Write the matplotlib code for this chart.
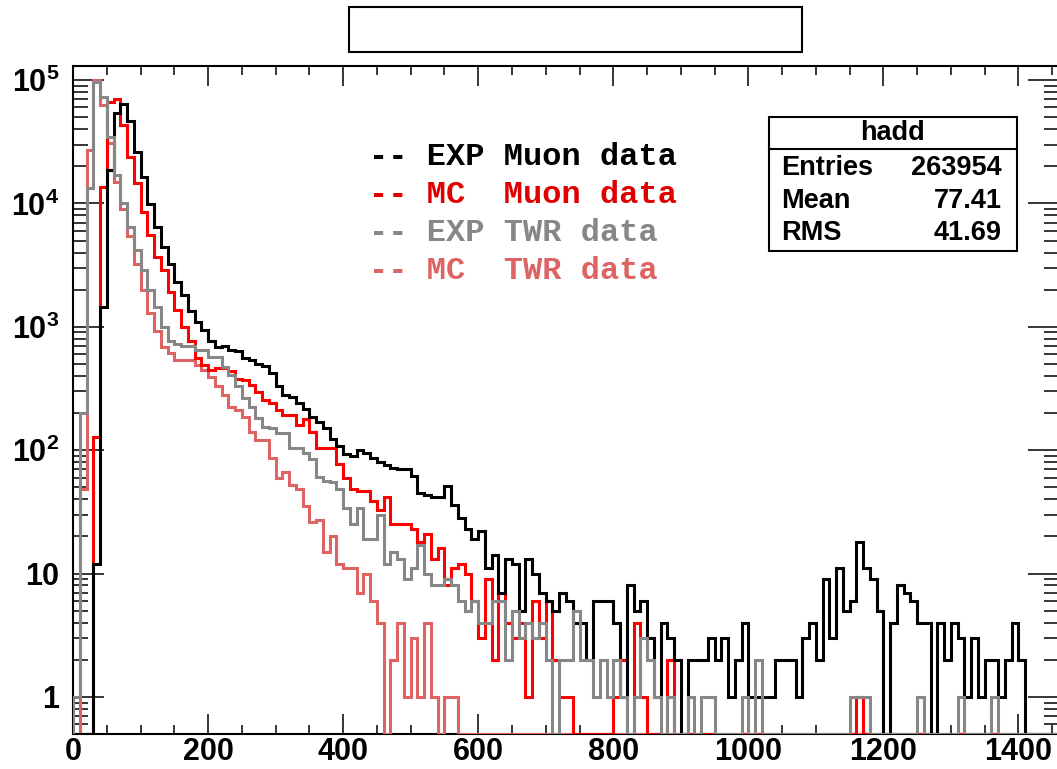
import numpy as np
import matplotlib
matplotlib.use("Agg")
import matplotlib.pyplot as plt
from matplotlib.lines import Line2D
from matplotlib.patches import Rectangle
from matplotlib.ticker import FixedLocator, LogLocator, MultipleLocator, NullFormatter

W, H = 1057, 769
BIN_WIDTH = 10
N_BINS = 146
Y_MIN, Y_MAX = 0.5, 1.3e5

# counts per 10-unit bin (bins 0..1450)
exp_muon = [
    0, 0, 0, 12, 1450, 18600, 54000, 64000, 47000, 26000,
    16300, 9900, 6400, 4400, 3200, 2300, 1800, 1350, 1100, 940,
    760, 680, 700, 650, 640, 560, 540, 500, 480, 420,
    330, 280, 270, 240, 215, 185, 170, 150, 122, 108,
    93, 90, 100, 95, 86, 80, 76, 71, 70, 70,
    62, 45, 43, 42, 42, 51, 36, 28, 23, 19,
    22, 11, 14, 7, 13, 12, 5, 13, 10, 7,
    6, 5, 7, 6, 4, 4, 2, 6, 6, 6,
    4, 1, 8, 5, 6, 3, 1, 4, 3, 2,
    0, 2, 2, 2, 3, 2, 3, 1, 2, 4,
    1, 1, 1, 1, 2, 2, 2, 1, 3, 4,
    2, 9, 3, 11, 5, 6, 18, 11, 9, 5,
    0, 4, 8, 7, 6, 4, 4, 0, 4, 2,
    4, 3, 1, 3, 1, 2, 2, 1, 2, 4,
    2, 0, 0, 0, 0, 0,
]
mc_muon = [
    0, 0, 0, 128, 13500, 67000, 70000, 43000, 24000, 14600,
    8500, 5500, 3700, 2900, 1900, 1370, 1000, 760, 560, 490,
    450, 460, 460, 440, 380, 370, 337, 298, 255, 240,
    212, 193, 193, 160, 180, 141, 104, 104, 104, 77,
    60, 48, 47, 47, 39, 33, 42, 25, 25, 25,
    23, 18, 21, 13, 16, 8, 11, 12, 10, 6,
    3, 9, 2, 7, 4, 3, 4, 1, 6, 3,
    6, 2, 1, 1, 0, 0, 0, 0, 0, 0,
    1, 2, 0, 4, 1, 0, 0, 0, 2, 0,
    0, 0, 0, 0, 0, 0, 0, 0, 0, 0,
    0, 0, 0, 0, 0, 0, 0, 0, 0, 0,
    0, 0, 0, 0, 0, 0, 1, 0, 0, 0,
    0, 0, 0, 0, 0, 0, 0, 0, 0, 0,
    0, 0, 0, 0, 0, 0, 0, 0, 0, 0,
    0, 0, 0, 0, 0, 0,
]
exp_twr = [
    1, 200, 13300, 96000, 73000, 34500, 17000, 10000, 6400, 4200,
    2900, 2000, 1450, 1000, 760, 720, 700, 700, 650, 650,
    570, 570, 475, 405, 330, 265, 225, 181, 155, 150,
    137, 137, 104, 104, 95, 84, 61, 56, 55, 48,
    34, 25, 34, 19, 19, 30, 12, 15, 13, 9,
    11, 17, 10, 8, 8, 9, 8, 6, 5, 6,
    4, 4, 6, 6, 2, 5, 3, 4, 3, 4,
    2, 0, 2, 2, 5, 2, 2, 1, 2, 1,
    2, 1, 0, 1, 3, 2, 1, 0, 1, 0,
    0, 1, 0, 1, 1, 0, 0, 0, 0, 1,
    0, 2, 0, 0, 0, 0, 0, 0, 0, 0,
    0, 0, 0, 0, 0, 1, 1, 1, 0, 0,
    0, 0, 0, 0, 0, 1, 0, 0, 0, 0,
    0, 1, 0, 0, 0, 0, 1, 0, 0, 0,
    0, 0, 0, 0, 0, 0,
]
mc_twr = [
    0, 48, 27000, 100000, 63000, 31000, 15000, 9000, 5400, 3200,
    2000, 1300, 920, 680, 610, 540, 540, 540, 490, 445,
    395, 330, 280, 225, 212, 187, 141, 121, 121, 86,
    59, 67, 52, 48, 35, 26, 27, 15, 20, 12,
    11, 11, 7, 10, 6, 4, 0, 2, 4, 1,
    3, 1, 4, 1, 0, 1, 1, 0, 0, 0,
    0, 0, 0, 0, 0, 0, 0, 0, 0, 0,
    0, 0, 0, 0, 0, 0, 0, 0, 0, 0,
    0, 0, 0, 0, 0, 0, 0, 0, 0, 0,
    0, 0, 0, 0, 0, 0, 0, 0, 0, 0,
    0, 0, 0, 0, 0, 0, 0, 0, 0, 0,
    0, 0, 0, 0, 0, 0, 0, 0, 0, 0,
    0, 0, 0, 0, 0, 0, 0, 0, 0, 0,
    0, 0, 0, 0, 0, 0, 0, 0, 0, 0,
    0, 0, 0, 0, 0, 0,
]

legend_lines = ["-- EXP Muon data", "-- MC  Muon data", "-- EXP TWR data", "-- MC  TWR data"]
stat_names = ["Entries", "Mean", "RMS"]
stat_values = ["263954", "77.41", "41.69"]
y_tick_values = [1, 10, 100, 1e3, 1e4, 1e5]
y_tick_labels = ["1", "10", r"$10^{2}$", r"$10^{3}$", r"$10^{4}$", r"$10^{5}$"]

BLACK = "#000000"
RED = "#ff0000"
GREY = "#878787"
PINK = "#de6464"

plt.rcParams["font.family"] = ["Liberation Sans", "DejaVu Sans"]
plt.rcParams["font.weight"] = "bold"
plt.rcParams["mathtext.fontset"] = "custom"
plt.rcParams["mathtext.rm"] = "Liberation Sans:bold"
plt.rcParams["mathtext.it"] = "Liberation Sans:bold"
plt.rcParams["mathtext.bf"] = "Liberation Sans:bold"


def fx(px):
    return px / W


def fy(py):
    return 1 - py / H


fig = plt.figure(figsize=(W / 100, H / 100), dpi=100)
# frame runs a little past the right edge of the picture, as in the original
ax = fig.add_axes([fx(73), fy(734), (1059 - 73) / W, (734 - 66) / H])

edges = np.arange(N_BINS + 1) * BIN_WIDTH
for counts, color, z in [
    (mc_twr, PINK, 3),
    (mc_muon, RED, 4),
    (exp_muon, BLACK, 5),
    (exp_twr, GREY, 6),
]:
    vals = np.asarray(counts, dtype=float)
    vals = np.where(vals > 0, vals, Y_MIN)  # empty bins sit on the frame
    ax.stairs(vals, edges, baseline=Y_MIN, color=color, lw=2.2, zorder=z)

ax.set_xlim(0, N_BINS * BIN_WIDTH)
ax.set_yscale("log")
ax.set_ylim(Y_MIN, Y_MAX)

ax.xaxis.set_major_locator(MultipleLocator(200))
ax.xaxis.set_minor_locator(MultipleLocator(50))
ax.yaxis.set_major_locator(FixedLocator(y_tick_values))
ax.yaxis.set_minor_locator(LogLocator(base=10, subs=np.arange(2, 10), numticks=30))
ax.yaxis.set_minor_formatter(NullFormatter())
ax.set_yticklabels(y_tick_labels)

ax.tick_params(axis="x", which="major", direction="in", length=14.4, width=1.1,
               top=True, pad=2.5, labelsize=22)
ax.tick_params(axis="x", which="minor", direction="in", length=6.5, width=1.1, top=True)
ax.tick_params(axis="y", which="major", direction="in", length=22.3, width=1.1,
               right=True, pad=10, labelsize=22)
ax.tick_params(axis="y", which="minor", direction="in", length=10.8, width=1.1, right=True)
for sp in ax.spines.values():
    sp.set_linewidth(1.5)

# empty title box
fig.add_artist(Rectangle((fx(349), fy(52)), (802 - 349) / W, (52 - 7) / H,
                         transform=fig.transFigure, facecolor="white",
                         edgecolor="black", lw=1.5))

# stats box
fig.add_artist(Rectangle((fx(769), fy(251)), (1017 - 769) / W, (251 - 117) / H,
                         transform=fig.transFigure, facecolor="white",
                         edgecolor="black", lw=1.5, zorder=10))
fig.add_artist(Line2D([fx(769), fx(1017)], [fy(149), fy(149)],
                      transform=fig.transFigure, color="black", lw=1.5, zorder=11))
fig.text(fx(893), fy(140), "hadd", ha="center", va="baseline", size=19.5, zorder=12)
for i, (name, val) in enumerate(zip(stat_names, stat_values)):
    base = 175 + i * 32.5
    fig.text(fx(781), fy(base), name, ha="left", va="baseline", size=19.5, zorder=12)
    fig.text(fx(1002), fy(base), val, ha="right", va="baseline", size=19.5, zorder=12)

# legend written as coloured text lines
for i, (line, color) in enumerate(zip(legend_lines, [BLACK, "#e00000", GREY, PINK])):
    fig.text(fx(369), fy(165 + i * 38), line, family="Liberation Mono",
             weight="bold", size=23, color=color, va="baseline")

fig.savefig("out.png", dpi=100)
